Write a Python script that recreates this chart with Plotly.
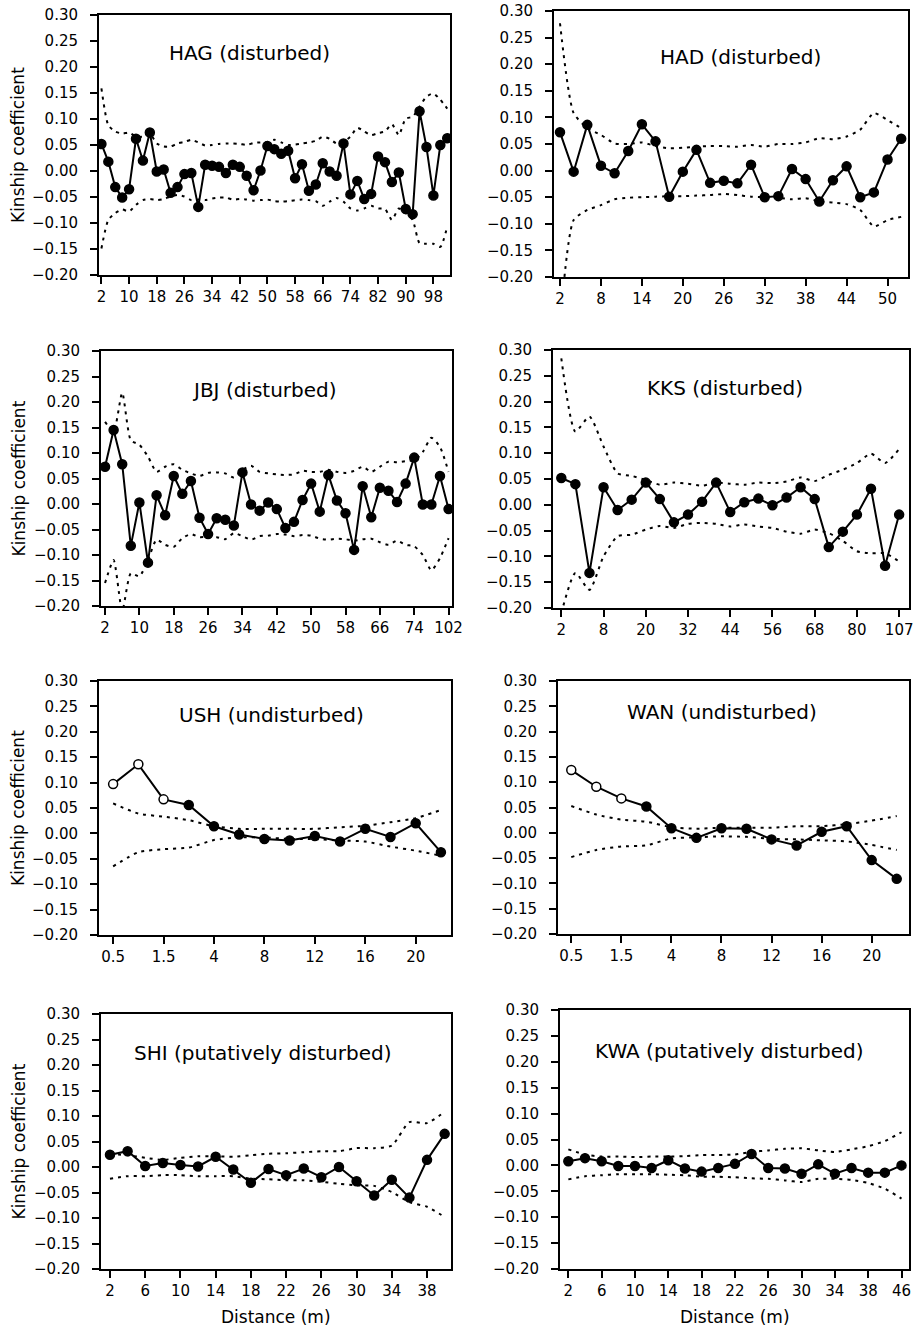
import plotly.graph_objects as go

W, H = 915, 1334

# ---------------- data ----------------
y_tick_vals = [-0.20, -0.15, -0.10, -0.05, 0.00, 0.05, 0.10, 0.15, 0.20, 0.25, 0.30]
y_tick_text = ["\u22120.20", "\u22120.15", "\u22120.10", "\u22120.05", "0.00", "0.05",
               "0.10", "0.15", "0.20", "0.25", "0.30"]

hag_ticks = ["2", "10", "18", "26", "34", "42", "50", "58", "66", "74", "82", "90", "98"]
hag_vals = [0.052, 0.018, -0.031, -0.051, -0.035, 0.062, 0.020, 0.074, -0.001, 0.003,
            -0.042, -0.031, -0.006, -0.004, -0.069, 0.012, 0.010, 0.008, -0.004, 0.012,
            0.008, -0.009, -0.037, 0.001, 0.048, 0.042, 0.033, 0.039, -0.014, 0.013,
            -0.038, -0.026, 0.015, -0.001, -0.009, 0.053, -0.045, -0.019, -0.054, -0.044,
            0.028, 0.017, -0.021, -0.003, -0.073, -0.083, 0.115, 0.046, -0.047, 0.050, 0.063]
hag_upper = [0.159, 0.088, 0.076, 0.072, 0.074, 0.066, 0.066, 0.072, 0.053, 0.047,
             0.047, 0.053, 0.056, 0.060, 0.055, 0.049, 0.050, 0.052, 0.053, 0.053,
             0.052, 0.050, 0.054, 0.055, 0.056, 0.060, 0.055, 0.050, 0.051, 0.053,
             0.055, 0.058, 0.066, 0.062, 0.053, 0.056, 0.066, 0.083, 0.076, 0.069,
             0.073, 0.076, 0.090, 0.069, 0.101, 0.104, 0.124, 0.143, 0.149, 0.137, 0.120]
hag_lower = [-0.149, -0.094, -0.081, -0.074, -0.078, -0.065, -0.056, -0.054, -0.056, -0.054,
             -0.049, -0.046, -0.049, -0.056, -0.055, -0.056, -0.053, -0.051, -0.051, -0.055,
             -0.054, -0.055, -0.057, -0.056, -0.055, -0.058, -0.059, -0.058, -0.056, -0.055,
             -0.056, -0.058, -0.067, -0.059, -0.052, -0.059, -0.072, -0.076, -0.072, -0.067,
             -0.072, -0.073, -0.094, -0.072, -0.081, -0.094, -0.139, -0.140, -0.140, -0.146, -0.107]

had_ticks = ["2", "8", "14", "20", "26", "32", "38", "44", "50"]
had_vals = [0.072, -0.002, 0.086, 0.009, -0.005, 0.037, 0.087, 0.055, -0.049, -0.002,
            0.039, -0.023, -0.019, -0.024, 0.011, -0.050, -0.048, 0.003, -0.016, -0.058,
            -0.018, 0.008, -0.050, -0.041, 0.021, 0.060]
had_upper = [0.277, 0.108, 0.080, 0.067, 0.051, 0.050, 0.053, 0.046, 0.042, 0.043,
             0.045, 0.046, 0.046, 0.045, 0.048, 0.045, 0.050, 0.050, 0.053, 0.061,
             0.059, 0.064, 0.077, 0.108, 0.095, 0.080]
had_lower = [-0.290, -0.093, -0.074, -0.065, -0.054, -0.051, -0.050, -0.049, -0.048, -0.048,
             -0.047, -0.046, -0.044, -0.046, -0.049, -0.050, -0.051, -0.054, -0.052, -0.058,
             -0.060, -0.063, -0.074, -0.105, -0.093, -0.087]

jbj_ticks = ["2", "10", "18", "26", "34", "42", "50", "58", "66", "74", "102"]
jbj_vals = [0.073, 0.145, 0.078, -0.082, 0.003, -0.115, 0.017, -0.022, 0.055, 0.020,
            0.045, -0.027, -0.059, -0.028, -0.031, -0.042, 0.062, -0.001, -0.013, 0.003,
            -0.010, -0.047, -0.035, 0.008, 0.040, -0.015, 0.057, 0.007, -0.018, -0.090,
            0.035, -0.026, 0.032, 0.026, 0.004, 0.040, 0.091, -0.001, -0.001, 0.055, -0.010]
jbj_upper = [0.161, 0.142, 0.218, 0.125, 0.116, 0.093, 0.063, 0.073, 0.078, 0.067,
             0.060, 0.055, 0.061, 0.062, 0.060, 0.052, 0.067, 0.075, 0.063, 0.060,
             0.058, 0.057, 0.058, 0.065, 0.063, 0.063, 0.067, 0.063, 0.061, 0.065,
             0.073, 0.063, 0.073, 0.083, 0.082, 0.084, 0.086, 0.102, 0.130, 0.112, 0.063]
jbj_lower = [-0.155, -0.110, -0.210, -0.136, -0.142, -0.110, -0.070, -0.080, -0.084, -0.067,
             -0.059, -0.065, -0.064, -0.065, -0.069, -0.057, -0.063, -0.070, -0.063, -0.062,
             -0.059, -0.060, -0.063, -0.061, -0.062, -0.068, -0.070, -0.068, -0.069, -0.072,
             -0.069, -0.068, -0.075, -0.080, -0.072, -0.080, -0.083, -0.100, -0.130, -0.106, -0.067]

kks_ticks = ["2", "8", "20", "32", "44", "56", "68", "80", "107"]
kks_vals = [0.052, 0.040, -0.132, 0.034, -0.010, 0.010, 0.043, 0.011, -0.034, -0.019,
            0.006, 0.043, -0.014, 0.005, 0.012, -0.001, 0.014, 0.034, 0.011, -0.082,
            -0.052, -0.019, 0.031, -0.118, -0.019]
kks_upper = [0.284, 0.142, 0.171, 0.113, 0.061, 0.056, 0.048, 0.039, 0.043, 0.041,
             0.037, 0.043, 0.041, 0.039, 0.043, 0.042, 0.045, 0.053, 0.046, 0.058,
             0.068, 0.081, 0.099, 0.081, 0.108]
kks_lower = [-0.210, -0.132, -0.165, -0.100, -0.061, -0.058, -0.048, -0.041, -0.045, -0.037,
             -0.035, -0.037, -0.042, -0.038, -0.042, -0.045, -0.052, -0.056, -0.048, -0.055,
             -0.070, -0.090, -0.094, -0.094, -0.110]

ush_ticks = ["0.5", "1.5", "4", "8", "12", "16", "20"]
ush_vals = [0.097, 0.136, 0.067, 0.056, 0.014, -0.002, -0.011, -0.014, -0.005, -0.016,
            0.009, -0.007, 0.020, -0.037]
ush_upper = [0.059, 0.039, 0.033, 0.026, 0.014, 0.009, 0.009, 0.009, 0.009, 0.012,
             0.015, 0.022, 0.030, 0.046]
ush_lower = [-0.065, -0.037, -0.031, -0.028, -0.013, -0.008, -0.008, -0.011, -0.011, -0.014,
             -0.016, -0.026, -0.034, -0.044]
ush_open = 3  # first classes drawn with open circles

wan_ticks = ["0.5", "1.5", "4", "8", "12", "16", "20"]
wan_vals = [0.124, 0.091, 0.068, 0.052, 0.009, -0.010, 0.009, 0.008, -0.013, -0.025,
            0.002, 0.013, -0.054, -0.091]
wan_upper = [0.053, 0.036, 0.026, 0.022, 0.011, 0.008, 0.010, 0.010, 0.010, 0.013,
             0.013, 0.017, 0.024, 0.033]
wan_lower = [-0.048, -0.034, -0.027, -0.025, -0.011, -0.009, -0.007, -0.008, -0.012, -0.013,
             -0.015, -0.017, -0.024, -0.034]
wan_open = 3

shi_ticks = ["2", "6", "10", "14", "18", "22", "26", "30", "34", "38"]
shi_vals = [0.024, 0.031, 0.002, 0.008, 0.004, 0.001, 0.020, -0.005, -0.031, -0.004,
            -0.016, -0.003, -0.020, 0.000, -0.028, -0.056, -0.025, -0.060, 0.014, 0.065]
shi_upper = [0.026, 0.023, 0.018, 0.014, 0.018, 0.021, 0.021, 0.020, 0.023, 0.026,
             0.027, 0.029, 0.031, 0.031, 0.037, 0.037, 0.042, 0.088, 0.086, 0.108]
shi_lower = [-0.023, -0.018, -0.018, -0.016, -0.016, -0.018, -0.018, -0.018, -0.023, -0.024,
             -0.026, -0.026, -0.029, -0.033, -0.036, -0.037, -0.049, -0.069, -0.078, -0.098]

kwa_ticks = ["2", "6", "10", "14", "18", "22", "26", "30", "34", "38", "46"]
kwa_vals = [0.008, 0.014, 0.008, -0.001, -0.001, -0.005, 0.010, -0.006, -0.012, -0.005,
            0.003, 0.022, -0.005, -0.006, -0.016, 0.002, -0.016, -0.005, -0.014, -0.014, 0.000]
kwa_upper = [0.031, 0.021, 0.017, 0.017, 0.016, 0.017, 0.017, 0.018, 0.020, 0.020,
             0.021, 0.026, 0.029, 0.032, 0.033, 0.029, 0.026, 0.031, 0.037, 0.047, 0.064]
kwa_lower = [-0.027, -0.021, -0.019, -0.017, -0.017, -0.017, -0.018, -0.019, -0.022, -0.022,
             -0.023, -0.025, -0.026, -0.029, -0.032, -0.026, -0.026, -0.028, -0.034, -0.045, -0.064]

# ---------------- panel layout (pixel boxes) ----------------
FONT = "DejaVu Sans, Arial, Helvetica, sans-serif"
panels = [
    dict(title="HAG (disturbed)", vals=hag_vals, up=hag_upper, lo=hag_lower, ticks=hag_ticks,
         step=4, n_open=0, box=(99, 450, 15, 275), pad=(0.35, 0.4), tpos=(167, 53), col=0, bottom=False),
    dict(title="HAD (disturbed)", vals=had_vals, up=had_upper, lo=had_lower, ticks=had_ticks,
         step=3, n_open=0, box=(554, 908, 11, 277), pad=(0.44, 0.5), tpos=(658, 57), col=1, bottom=False),
    dict(title="JBJ (disturbed)", vals=jbj_vals, up=jbj_upper, lo=jbj_lower, ticks=jbj_ticks,
         step=4, n_open=0, box=(101, 452, 351, 606), pad=(0.47, 0.4), tpos=(190, 390), col=0, bottom=False),
    dict(title="KKS (disturbed)", vals=kks_vals, up=kks_upper, lo=kks_lower, ticks=kks_ticks,
         step=3, n_open=0, box=(553, 909, 350, 608), pad=(0.59, 0.7), tpos=(645, 388), col=1, bottom=False),
    dict(title="USH (undisturbed)", vals=ush_vals, up=ush_upper, lo=ush_lower, ticks=ush_ticks,
         step=2, n_open=ush_open, box=(99, 451, 681, 935), pad=(0.56, 0.4), tpos=(177, 715), col=0, bottom=False),
    dict(title="WAN (undisturbed)", vals=wan_vals, up=wan_upper, lo=wan_lower, ticks=wan_ticks,
         step=2, n_open=wan_open, box=(558, 909, 681, 934), pad=(0.53, 0.49), tpos=(625, 712), col=1, bottom=False),
    dict(title="SHI (putatively disturbed)", vals=shi_vals, up=shi_upper, lo=shi_lower, ticks=shi_ticks,
         step=2, n_open=0, box=(101, 451, 1014, 1269), pad=(0.51, 0.36), tpos=(132, 1053), col=0, bottom=True),
    dict(title="KWA (putatively disturbed)", vals=kwa_vals, up=kwa_upper, lo=kwa_lower, ticks=kwa_ticks,
         step=2, n_open=0, box=(560, 909, 1010, 1269), pad=(0.5, 0.45), tpos=(593, 1051), col=1, bottom=True),
]

fig = go.Figure()
annotations = []
layout_axes = {}

dotted = dict(color="black", width=2, dash="3px,5px", shape="spline", smoothing=0.6)

for i, p in enumerate(panels):
    k = i + 1
    xa = "x" if k == 1 else f"x{k}"
    ya = "y" if k == 1 else f"y{k}"
    n = len(p["vals"])
    xs = list(range(n))

    fig.add_trace(go.Scatter(x=xs, y=p["up"], mode="lines", line=dotted,
                             xaxis=xa, yaxis=ya, showlegend=False, hoverinfo="skip"))
    fig.add_trace(go.Scatter(x=xs, y=p["lo"], mode="lines", line=dotted,
                             xaxis=xa, yaxis=ya, showlegend=False, hoverinfo="skip"))
    no = p["n_open"]
    fills = ["white" if j < no else "black" for j in range(n)]
    fig.add_trace(go.Scatter(x=xs, y=p["vals"], mode="lines+markers",
                             line=dict(color="black", width=2),
                             marker=dict(color=fills, size=9, opacity=1, symbol="circle",
                                         line=dict(color="black", width=1.5)),
                             xaxis=xa, yaxis=ya, showlegend=False))

    x0, x1, y0, y1 = p["box"]
    tick_idx = list(range(0, n, p["step"]))
    axis_common = dict(showline=True, linecolor="black", linewidth=2, mirror=True,
                       ticks="outside", ticklen=7, tickwidth=1.5, tickcolor="black",
                       showgrid=False, zeroline=False, automargin=False,
                       tickfont=dict(family=FONT, size=15, color="black"))
    layout_axes["xaxis" if k == 1 else f"xaxis{k}"] = dict(
        domain=[x0 / W, x1 / W], anchor=ya,
        range=[-p["pad"][0], n - 1 + p["pad"][1]],
        tickmode="array", tickvals=tick_idx, ticktext=p["ticks"], **axis_common)
    layout_axes["yaxis" if k == 1 else f"yaxis{k}"] = dict(
        domain=[1 - y1 / H, 1 - y0 / H], anchor=xa, ticklabelstandoff=9,
        range=[-0.2, 0.3], tickmode="array", tickvals=y_tick_vals, ticktext=y_tick_text,
        **axis_common)

    tx, ty = p["tpos"]
    annotations.append(dict(text=p["title"], x=tx / W, y=1 - ty / H, xref="paper", yref="paper",
                            xanchor="left", yanchor="middle", showarrow=False,
                            font=dict(family=FONT, size=20, color="black")))
    if p["col"] == 0:
        annotations.append(dict(text="Kinship coefficient", x=18 / W, y=1 - ((y0 + y1) / 2) / H,
                                xref="paper", yref="paper", textangle=-90, showarrow=False,
                                xanchor="center", yanchor="middle",
                                font=dict(family=FONT, size=17, color="black")))
    if p["bottom"]:
        annotations.append(dict(text="Distance (m)", x=((x0 + x1) / 2) / W, y=1 - 1317 / H,
                                xref="paper", yref="paper", showarrow=False,
                                xanchor="center", yanchor="middle",
                                font=dict(family=FONT, size=17, color="black")))

fig.update_layout(width=W, height=H, autosize=False, template="none",
                  margin=dict(l=0, r=0, t=0, b=0, pad=0),
                  paper_bgcolor="white", plot_bgcolor="white",
                  annotations=annotations, **layout_axes)

fig.write_html("out.html", config={"displayModeBar": False},
               post_script="document.body.style.margin='0px';document.body.style.padding='0px';")
